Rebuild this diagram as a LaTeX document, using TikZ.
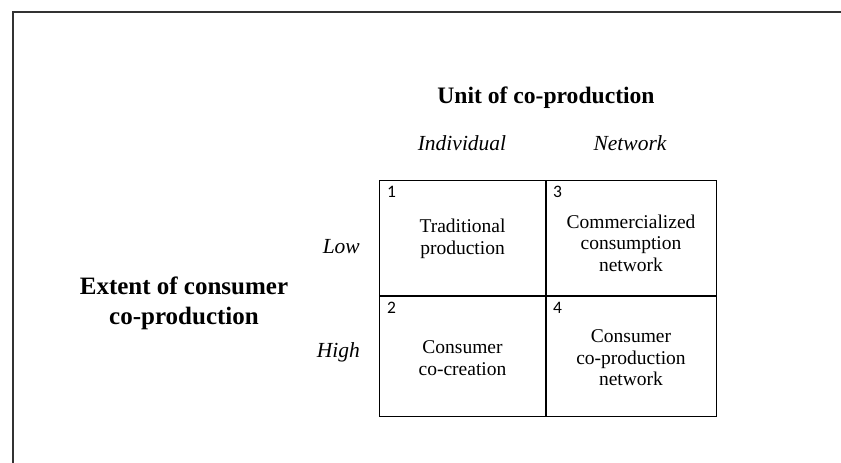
\documentclass[tikz,border=0pt]{standalone}
\usepackage{fontspec}
\setmainfont{Liberation Serif}
\newfontfamily\numfont{Carlito}
\definecolor{FrameGrey}{RGB}{50,50,50}

\begin{document}
\begin{tikzpicture}[x=1pt, y=-1pt,
  celltext/.style={align=center, inner sep=0pt, font=\fontsize{19.5}{21.5}\selectfont},
  cellnum/.style={anchor=base west, inner sep=0pt, font=\numfont\fontsize{17.5}{20}\selectfont},
  axislabel/.style={inner sep=0pt, font=\fontsize{21.5}{24}\selectfont\itshape},
  axistitle/.style={align=center, inner sep=0pt, font=\fontsize{25}{30}\selectfont\bfseries}]
\useasboundingbox (0,0) rectangle (841,463);
% frame of the figure
\draw[line width=2pt, FrameGrey] (12.5,463) -- (12.5,11.5) -- (841,11.5);
% the 2x2 grid
\draw[line width=1pt] (379,180) rectangle (716,416);
\draw[line width=2.5pt] (546,180) -- (546,416);
\draw[line width=2.5pt] (379,296) -- (716,296);
% headings
\node[axistitle, anchor=base, font=\fontsize{23.6}{28}\selectfont\bfseries] (unit) at (546,103) {Unit of co-production};
\node[axislabel, anchor=base] (indiv) at (462,150) {Individual};
\node[axislabel, anchor=base] (netw) at (630,150) {Network};
\node[axistitle] (extent) at (184,303) {Extent of consumer\\co-production};
\node[axislabel, anchor=base east] (low) at (360,253) {Low};
\node[axislabel, anchor=base east] (high) at (360,357) {High};
% cells
\node[cellnum] (n1) at (387,197) {1};
\node[cellnum] (n2) at (387,313) {2};
\node[cellnum] (n3) at (553,197) {3};
\node[cellnum] (n4) at (553,313) {4};
\node[celltext] (trad) at (462.5,239) {Traditional\\production};
\node[celltext] (cocr) at (462.5,358) {Consumer\\co-creation};
\node[celltext] (comm) at (631,243) {Commercialized\\consumption\\network};
\node[celltext] (conet) at (631,358) {Consumer\\co-production\\network};
\end{tikzpicture}
\end{document}
